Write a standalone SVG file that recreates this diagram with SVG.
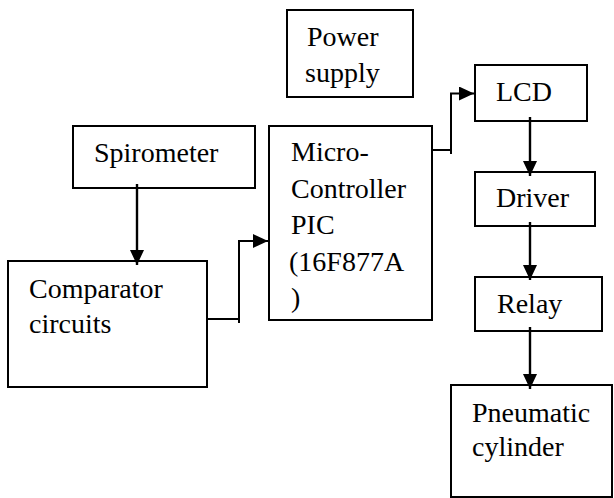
<svg xmlns="http://www.w3.org/2000/svg" width="614" height="498" viewBox="0 0 614 498">
<style>
.box{fill:#fff;stroke:#000;stroke-width:2}
.lbl{font-size:28px;fill:#000}
.wire{fill:none;stroke:#000;stroke-width:2}
.arr{fill:none;stroke:#000;stroke-width:2.4}
</style>
<defs>
<marker id="ah" markerUnits="userSpaceOnUse" markerWidth="15" markerHeight="14" refX="15" refY="7" orient="auto" viewBox="0 0 15 14">
<path d="M0,0 L15,7 L0,14 Z" fill="#000"/>
</marker>
</defs>
<rect width="614" height="498" fill="#fff"/>
<g font-family="'Liberation Serif', 'DejaVu Serif', serif">
<g id="power">
<rect class="box" x="287" y="10" width="126" height="87"/>
<text class="lbl" x="307" y="46">Power</text>
<text class="lbl" x="305" y="82">supply</text>
</g>
<g id="spirometer">
<rect class="box" x="73" y="126" width="182" height="62"/>
<text class="lbl" x="94" y="162">Spirometer</text>
</g>
<g id="micro">
<rect class="box" x="269" y="126" width="163" height="194"/>
<text class="lbl" x="291" y="161">Micro-</text>
<text class="lbl" x="291" y="198">Controller</text>
<text class="lbl" x="291" y="234">PIC</text>
<text class="lbl" x="289" y="271">(16F877A</text>
<text class="lbl" x="291" y="307">)</text>
</g>
<g id="comparator">
<rect class="box" x="8" y="261" width="199" height="126"/>
<text class="lbl" x="29" y="298">Comparator</text>
<text class="lbl" x="29" y="333">circuits</text>
</g>
<g id="lcd">
<rect class="box" x="475" y="65" width="112" height="56"/>
<text class="lbl" x="496" y="101">LCD</text>
</g>
<g id="driver">
<rect class="box" x="475" y="172" width="120" height="54"/>
<text class="lbl" x="496" y="207">Driver</text>
</g>
<g id="relay">
<rect class="box" x="475" y="277" width="127" height="54"/>
<text class="lbl" x="497" y="313">Relay</text>
</g>
<g id="pneumatic">
<rect class="box" x="451" y="385" width="161" height="112"/>
<text class="lbl" x="472" y="422">Pneumatic</text>
<text class="lbl" x="472" y="456">cylinder</text>
</g>
</g>
<g id="connectors">
<path class="arr" d="M137,184 L137,265" marker-end="url(#ah)"/>
<path class="wire" d="M207,319 L239,319 M239,323 L239,241 L268,241" marker-end="url(#ah)"/>
<path class="wire" d="M432,150 L451,150 M451,154 L451,93.5 L474,93.5" marker-end="url(#ah)"/>
<path class="arr" d="M530,117 L530,176" marker-end="url(#ah)"/>
<path class="arr" d="M530,222 L530,280" marker-end="url(#ah)"/>
<path class="arr" d="M530,327 L530,389" marker-end="url(#ah)"/>
</g>
</svg>
